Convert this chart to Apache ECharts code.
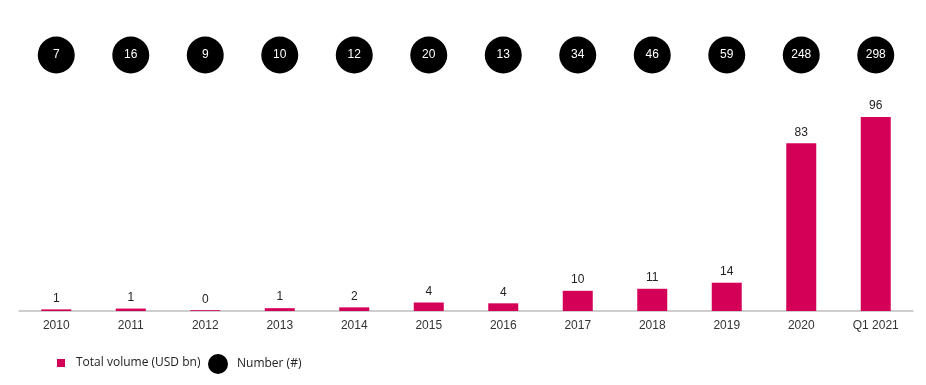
<!DOCTYPE html>
<html><head><meta charset="utf-8">
<script src="https://cdn.jsdelivr.net/npm/echarts@6/dist/echarts.min.js"></script>
<style>html,body{margin:0;padding:0;background:#fff}#c{width:926px;height:385px}</style>
</head><body><div id="c"></div>
<script>
const categories = ['2010','2011','2012','2013','2014','2015','2016','2017','2018','2019','2020','Q1 2021'];
const volumes = [0.8, 1.2, 0.4, 1.4, 1.8, 4.2, 3.8, 10, 11, 14, 83, 96];
const counts = [7, 16, 9, 10, 12, 20, 13, 34, 46, 59, 248, 298];
const volumeName = 'Total volume (USD bn)';
const countName = 'Number (#)';

const chart = echarts.init(document.getElementById('c'));
chart.setOption({
  animation: false,
  grid: [
    {left: 19, right: 13, top: 109, bottom: 74},
    {left: 19, right: 13, top: 35, height: 40}
  ],
  xAxis: [
    {type: 'category', data: categories, gridIndex: 0,
     axisLine: {lineStyle: {color: '#bfbfbf', width: 1.5}},
     axisTick: {show: false},
     axisLabel: {color: '#333', fontFamily: 'Liberation Sans, Arial', fontSize: 12, margin: 9}},
    {type: 'category', data: categories, gridIndex: 1, show: false}
  ],
  yAxis: [
    {type: 'value', gridIndex: 0, min: 0, max: 100, show: false},
    {type: 'value', gridIndex: 1, min: -1, max: 1, show: false}
  ],
  legend: [
    {data: [{name: volumeName, icon: 'rect'}], left: 52, top: 352, itemWidth: 8, itemHeight: 8, itemGap: 0,
     textStyle: {color: '#222', fontFamily: 'Open Sans', fontSize: 12, padding: [0,0,0,6]}},
    {data: [{name: countName, icon: 'circle'}], left: 203, top: 349, itemWidth: 20, itemHeight: 20,
     textStyle: {color: '#222', fontFamily: 'Open Sans', fontSize: 12, padding: [0,0,0,4]}}
  ],
  series: [
    {name: volumeName, type: 'bar', data: volumes, xAxisIndex: 0, yAxisIndex: 0,
     barWidth: 30, itemStyle: {color: '#d40058'},
     label: {show: true, position: 'top', distance: 5, color: '#222', fontFamily: 'Liberation Sans, Arial', fontSize: 12,
       formatter: p => Math.round(p.value)}},
    {name: countName, type: 'scatter', xAxisIndex: 1, yAxisIndex: 1,
     data: counts.map((c, i) => [i, 0]),
     symbol: 'circle', symbolSize: 37, itemStyle: {color: '#000', opacity: 1},
     label: {show: true, position: 'inside', color: '#fff', fontFamily: 'Liberation Sans, Arial', fontSize: 12,
       formatter: p => counts[p.dataIndex]}}
  ]
});
</script></body></html>
